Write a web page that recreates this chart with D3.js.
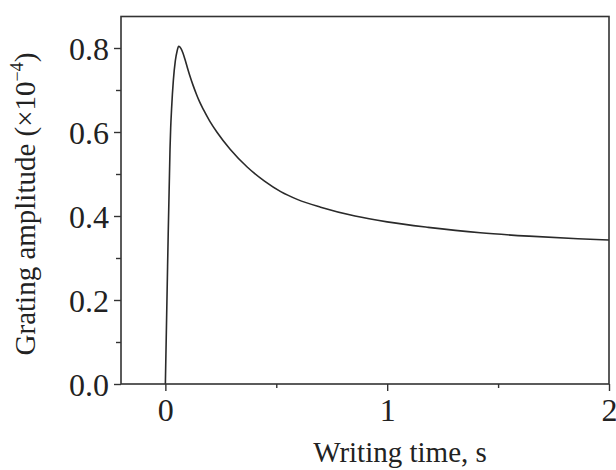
<!DOCTYPE html>
<html lang="en">
<head>
<meta charset="UTF-8" />
<title>Grating amplitude vs writing time</title>
<script src="https://d3js.org/d3.v7.min.js"></script>
<style>
    body { margin: 0; background: #fff; }
    svg text { font-family: 'Liberation Serif', 'Times New Roman', serif; fill: #222; }
</style>
</head>
<body>
<svg width="616" height="470"></svg>
<script>

// values (amplitude in units of 1e-4)
var times = [0, 0.010, 0.021, 0.024, 0.028, 0.036, 0.045, 0.053, 0.060, 0.070, 0.080, 0.090,
             0.100, 0.110, 0.125, 0.140, 0.155, 0.173, 0.200, 0.232, 0.292, 0.370, 0.447,
             0.520, 0.597, 0.700, 0.855, 1.00, 1.185, 1.42, 1.64, 1.86, 2.0];
var amplitude = [0, 0.28, 0.56, 0.61, 0.655, 0.723, 0.770, 0.793, 0.804, 0.799, 0.787, 0.770,
                 0.752, 0.7345, 0.711, 0.690, 0.671, 0.652, 0.626, 0.600, 0.559, 0.516, 0.483,
                 0.458, 0.439, 0.421, 0.400, 0.386, 0.373, 0.360, 0.352, 0.346, 0.343];
var xTicks = [0, 1, 2];
var xMinor = [0.5, 1.5];
var yTicks = [0, 0.2, 0.4, 0.6, 0.8];
var yMinor = [0.1, 0.3, 0.5, 0.7];

var svg = d3.select("svg"),
    margin = {top: 16.5, right: 7, bottom: 86, left: 121},
    width = +svg.attr("width") - margin.left - margin.right,
    height = +svg.attr("height") - margin.top - margin.bottom,
    g = svg.append("g").attr("transform", "translate(" + margin.left + "," + margin.top + ")");

var x = d3.scaleLinear().domain([-0.2, 2]).range([0, width]);
var y = d3.scaleLinear().domain([0, 0.875]).range([height, 0]);

var points = times.map(function(t, i) { return [t, amplitude[i]]; });

// the curve
g.append("path")
    .datum(points)
    .attr("fill", "none")
    .attr("stroke", "#2a2a2a")
    .attr("stroke-width", 1.6)
    .attr("d", d3.line()
        .x(function(d) { return x(d[0]); })
        .y(function(d) { return y(d[1]); })
        .curve(d3.curveMonotoneX));

// frame
g.append("rect")
    .attr("width", width)
    .attr("height", height)
    .attr("fill", "none")
    .attr("stroke", "#333")
    .attr("stroke-width", 1.6);

// bottom axis
g.append("g")
    .attr("transform", "translate(0," + height + ")")
    .call(d3.axisBottom(x).tickValues(xTicks).tickSize(7).tickPadding(7).tickFormat(d3.format("d")));
g.append("g")
    .attr("transform", "translate(0," + height + ")")
    .call(d3.axisBottom(x).tickValues(xMinor).tickSize(4).tickFormat(""));

// left axis
var yAxis = g.append("g")
    .call(d3.axisLeft(y).tickValues(yTicks).tickSize(7).tickPadding(5).tickFormat(d3.format(".1f")));
g.append("g")
    .call(d3.axisLeft(y).tickValues(yMinor).tickSize(5).tickFormat(""));

g.selectAll(".domain").remove();
g.selectAll(".tick line").attr("stroke", "#333").attr("stroke-width", 1.4);
g.selectAll(".tick text")
    .attr("font-size", 32)
    .attr("fill", "#222");
yAxis.selectAll(".tick text").attr("dy", "0.36em");

// axis titles
svg.append("text")
    .attr("x", 400)
    .attr("y", 462)
    .attr("text-anchor", "middle")
    .attr("font-size", 29)
    .text("Writing time, s");

var yt = svg.append("text")
    .attr("transform", "translate(35,204) rotate(-90)")
    .attr("text-anchor", "middle")
    .attr("font-size", 29);
yt.append("tspan").text("Grating amplitude (×10");
yt.append("tspan").attr("font-size", 18).attr("dy", -12).text("−4");
yt.append("tspan").attr("dy", 12).text(")");

</script>
</body>
</html>
